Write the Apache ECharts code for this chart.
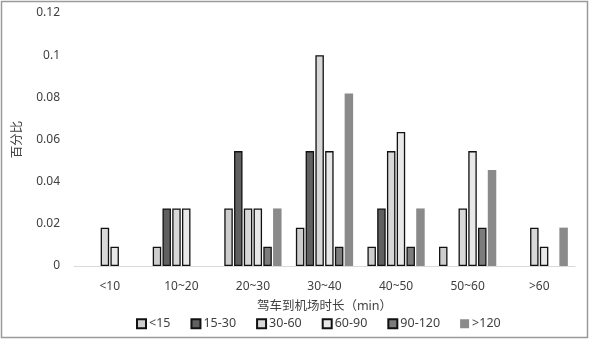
<!DOCTYPE html>
<html>
<head>
<meta charset="utf-8">
<script src="https://cdn.jsdelivr.net/npm/echarts@6/dist/echarts.min.js"></script>
<style>
  html, body { margin: 0; padding: 0; background: #fff; }
  #main { width: 590px; height: 340px; }
</style>
</head>
<body>
<div id="main"></div>
<script>
// 驾车到机场时长分组
const categories = ['<10', '10~20', '20~30', '30~40', '40~50', '50~60', '>60'];
const seriesNames = ['<15', '15-30', '30-60', '60-90', '90-120', '>120'];
// 每个系列在各时长分组的百分比
const lt15    = [0,      0.0091, 0.0273, 0.0182, 0.0091, 0.0091, 0];
const m15_30  = [0,      0.0273, 0.0545, 0.0545, 0.0273, 0,      0];
const m30_60  = [0.0182, 0.0273, 0.0273, 0.1,    0.0545, 0.0273, 0.0182];
const m60_90  = [0.0091, 0.0273, 0.0273, 0.0545, 0.0636, 0.0545, 0.0091];
const m90_120 = [0,      0,      0.0091, 0.0091, 0.0091, 0.0182, 0];
const gt120   = [0,      0,      0.0273, 0.0818, 0.0273, 0.0455, 0.0182];
const yTicks = [0, 0.02, 0.04, 0.06, 0.08, 0.1, 0.12];

const allData = [lt15, m15_30, m30_60, m60_90, m90_120, gt120];
const fills = ['#cdcdcd', '#606060', '#d8d8d8', '#e8e8e8', '#7c7c7c', '#8a8a8a'];
const borders = ['#111', '#111', '#111', '#111', '#111', null];
const font = "'Noto Sans', 'Noto Sans CJK SC', sans-serif";

let myChart = echarts.init(document.getElementById('main'));
let option = {
  animation: false,
  textStyle: { fontFamily: font },
  graphic: [{
    type: 'rect',
    shape: { x: 1.5, y: 1.5, width: 586, height: 336 },
    style: { fill: 'none', stroke: '#9a9a9a', lineWidth: 1.5 },
    silent: true
  }],
  grid: { left: 74, right: 15, top: 13, bottom: 74 },
  legend: {
    data: seriesNames,
    icon: 'rect',
    bottom: 5,
    left: 131,
    itemWidth: 9,
    itemHeight: 9,
    itemGap: 20,
    textStyle: { color: '#404040', fontSize: 12.5, fontFamily: font, padding: [0, 0, 0, -2] }
  },
  xAxis: {
    type: 'category',
    data: categories,
    name: '驾车到机场时长（min）',
    nameLocation: 'middle',
    nameGap: 34,
    nameTextStyle: { color: '#404040', fontSize: 12.5, fontFamily: font },
    axisLine: { lineStyle: { color: '#d9d9d9', width: 1 } },
    axisTick: { show: false },
    axisLabel: { color: '#404040', fontSize: 12, margin: 15, fontFamily: font }
  },
  yAxis: {
    type: 'value',
    min: 0,
    max: 0.12,
    interval: 0.02,
    name: '百分比',
    nameLocation: 'middle',
    nameGap: 50,
    nameTextStyle: { color: '#404040', fontSize: 12.5, fontFamily: font },
    axisLine: { show: false },
    axisTick: { show: false },
    splitLine: { show: false },
    axisLabel: {
      color: '#404040', fontSize: 12, margin: 14, fontFamily: font,
      formatter: v => yTicks.includes(+v.toFixed(2)) ? String(+v.toFixed(2)) : ''
    }
  },
  series: seriesNames.map((name, i) => ({
    name: name,
    type: 'bar',
    barCategoryGap: '20%',
    barGap: '15%',
    data: allData[i].map(v => v === 0 ? '-' : v),
    itemStyle: {
      color: fills[i],
      borderColor: borders[i] || fills[i],
      borderWidth: borders[i] ? 1.3 : 0
    }
  }))
};
myChart.setOption(option);
</script>
</body>
</html>
